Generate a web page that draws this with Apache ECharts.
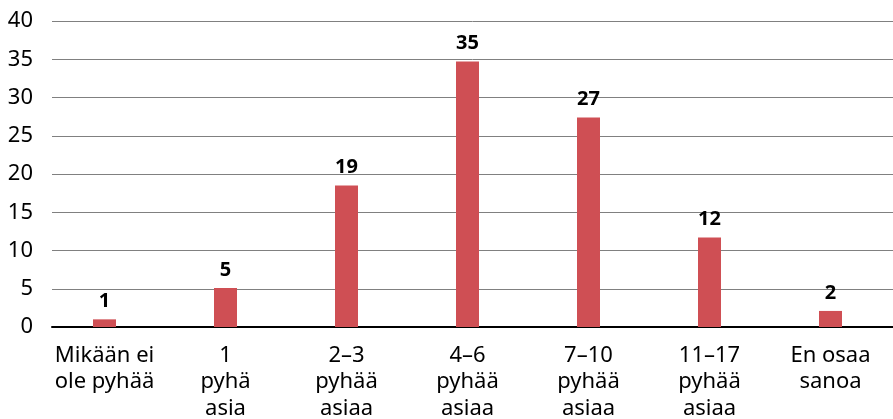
<!DOCTYPE html>
<html>
<head>
<meta charset="utf-8">
<script src="https://cdn.jsdelivr.net/npm/echarts@6/dist/echarts.min.js"></script>
<style>
  html, body { margin: 0; padding: 0; background: #fff; }
  #chart { width: 893px; height: 419px; }
</style>
</head>
<body>
<div id="chart"></div>
<script>
// luokat ja arvot
const categories = ['Mikään ei\nole pyhää', '1\npyhä\nasia', '2–3\npyhää\nasiaa', '4–6\npyhää\nasiaa',
    '7–10\npyhää\nasiaa', '11–17\npyhää\nasiaa', 'En osaa\nsanoa'];
const values = [1, 5.1, 18.5, 34.7, 27.4, 11.7, 2.1];
const labels = ['1', '5', '19', '35', '27', '12', '2'];
const yTicks = [0, 5, 10, 15, 20, 25, 30, 35, 40];

const font = '"Noto Sans", "Open Sans", sans-serif';

const option = {
    animation: false,
    grid: [
        { left: 44, right: 2, top: 21, bottom: 92, outerBoundsMode: 'none' },
        { left: 52, right: 0, top: 21, bottom: 92, outerBoundsMode: 'none' }
    ],
    xAxis: [{
        gridIndex: 0,
        type: 'category',
        data: categories,
        axisLine: { show: false },
        axisTick: { show: false },
        axisLabel: {
            color: '#000',
            fontSize: 22,
            lineHeight: 26.5,
            fontFamily: font,
            margin: 15,
            interval: 0
        }
    }, {
        gridIndex: 1,
        type: 'value',
        min: 0,
        max: 1,
        axisLine: { show: true, onZero: false, lineStyle: { color: '#000', width: 2 } },
        axisTick: { show: false },
        axisLabel: { show: false },
        splitLine: { show: false }
    }],
    yAxis: [{
        gridIndex: 0,
        type: 'value',
        min: yTicks[0],
        max: yTicks[yTicks.length - 1],
        interval: 5,
        show: false,
        splitLine: { show: false }
    }, {
        gridIndex: 1,
        type: 'value',
        min: yTicks[0],
        max: yTicks[yTicks.length - 1],
        interval: 5,
        axisLine: { show: false },
        axisTick: { show: false },
        axisLabel: { color: '#000', fontSize: 22, fontFamily: font, margin: 19 },
        splitLine: { lineStyle: { color: '#808080', width: 1 } }
    }],
    series: [{
        type: 'bar',
        xAxisIndex: 0,
        yAxisIndex: 0,
        data: values,
        barWidth: 23,
        itemStyle: { color: '#cf4f54' },
        label: {
            show: true,
            position: 'top',
            distance: 8,
            color: '#000',
            fontSize: 20,
            fontWeight: 'bold',
            fontFamily: font,
            formatter: p => labels[p.dataIndex]
        },
        z: 3
    }]
};

const myChart = echarts.init(document.getElementById('chart'));
myChart.setOption(option);
</script>
</body>
</html>
